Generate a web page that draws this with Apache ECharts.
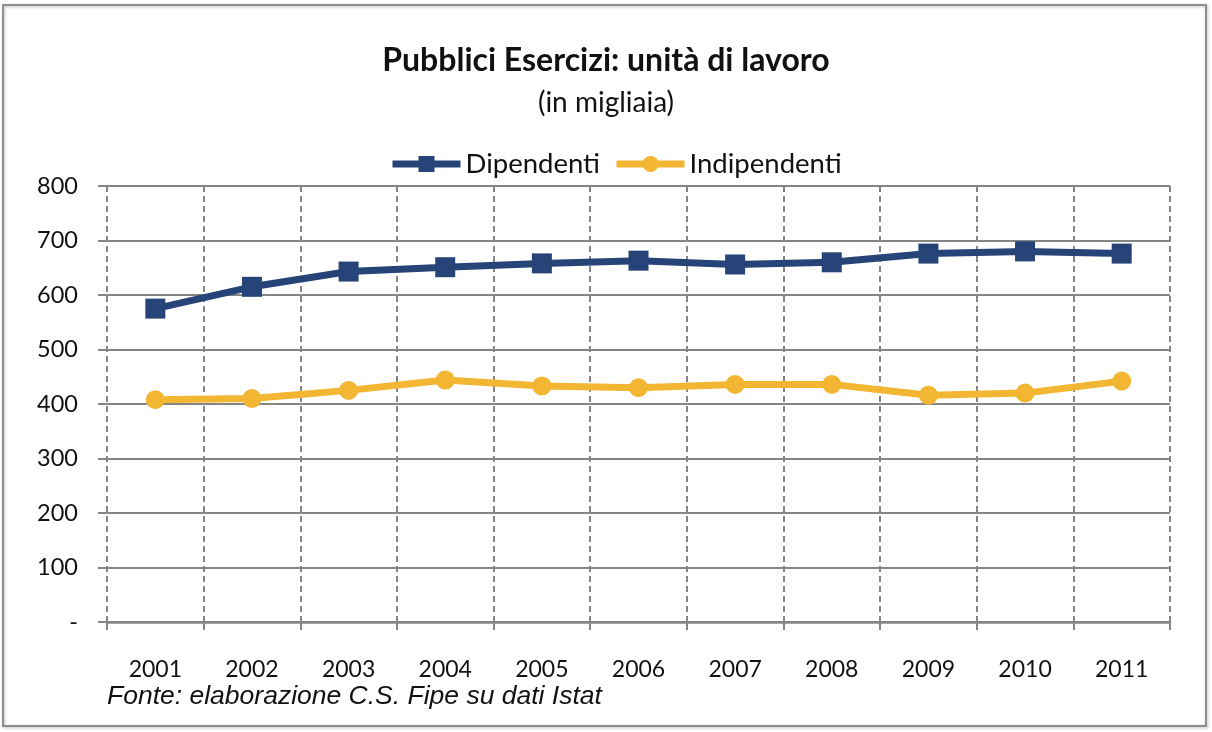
<!DOCTYPE html>
<html><head><meta charset="utf-8">
<script src="https://cdn.jsdelivr.net/npm/echarts@6/dist/echarts.min.js"></script>
<style>html,body{margin:0;padding:0;background:#fff}#c{width:1212px;height:732px}</style>
</head><body><div id="c"></div>
<script>
const categories = ['2001','2002','2003','2004','2005','2006','2007','2008','2009','2010','2011'];
const dipendenti = [575, 615, 643, 651, 658, 663, 656, 660, 676, 680, 676];
const indipendenti = [408, 410, 425, 444, 433, 430, 436, 436, 416, 420, 442];
const yTicks = [0, 100, 200, 300, 400, 500, 600, 700, 800];

const chart = echarts.init(document.getElementById('c'));
const font = 'Lato, "Open Sans", sans-serif';
chart.setOption({
  backgroundColor: '#fff',
  animation: false,
  graphic: [{
    type: 'rect', shape: {x: 3, y: 5, width: 1203, height: 721},
    style: {fill: 'none', stroke: '#8f8f8f', lineWidth: 2, shadowColor: 'rgba(0,0,0,0.25)', shadowBlur: 3, shadowOffsetX: 1, shadowOffsetY: 1}
  }, {
    type: 'text', left: 107, top: 683,
    style: {text: 'Fonte: elaborazione C.S. Fipe su dati Istat', font: 'italic 26.5px "Liberation Sans", Arial, sans-serif', fill: '#111'}
  }],
  title: [{
    text: 'Pubblici Esercizi: unità di lavoro',
    left: 'center', top: 40,
    textStyle: {fontFamily: font, fontWeight: 'bold', fontSize: 32, color: '#111'}
  }, {
    text: '(in migliaia)',
    left: 'center', top: 84,
    textStyle: {fontFamily: font, fontWeight: 'normal', fontSize: 28, color: '#111'}
  }],
  legend: {
    top: 145, left: 384, itemWidth: 68, itemHeight: 20, itemGap: 13,
    textStyle: {fontFamily: font, fontSize: 27.5, color: '#111'},
    lineStyle: {width: 7},
    data: ['Dipendenti', 'Indipendenti']
  },
  grid: {left: 107, right: 42, top: 186, bottom: 110, containLabel: false},
  xAxis: {
    type: 'category', data: categories, boundaryGap: true,
    axisLine: {lineStyle: {color: '#858585', width: 2.5}},
    axisTick: {show: true, length: 8, lineStyle: {color: '#858585', width: 2}},
    axisLabel: {margin: 36, fontFamily: font, fontSize: 23, color: '#111'},
    splitLine: {show: true, lineStyle: {color: '#858585', width: 2, type: [6, 4]}}
  },
  yAxis: {
    type: 'value', min: 0, max: 800, interval: 100,
    axisLine: {show: false},
    axisTick: {show: true, length: 9, lineStyle: {color: '#858585', width: 2}},
    axisLabel: {margin: 29, fontFamily: font, fontSize: 23.5, color: '#111',
      formatter: v => (v === 0 ? '-' : String(v))},
    splitLine: {show: true, lineStyle: {color: '#858585', width: 2}}
  },
  series: [{
    name: 'Dipendenti', type: 'line', data: dipendenti,
    symbol: 'rect', symbolSize: 20,
    lineStyle: {color: '#264478', width: 7},
    itemStyle: {color: '#264478'}
  }, {
    name: 'Indipendenti', type: 'line', data: indipendenti,
    symbol: 'circle', symbolSize: 19,
    lineStyle: {color: '#F2B632', width: 7},
    itemStyle: {color: '#F2B632'}
  }]
});
</script></body></html>
